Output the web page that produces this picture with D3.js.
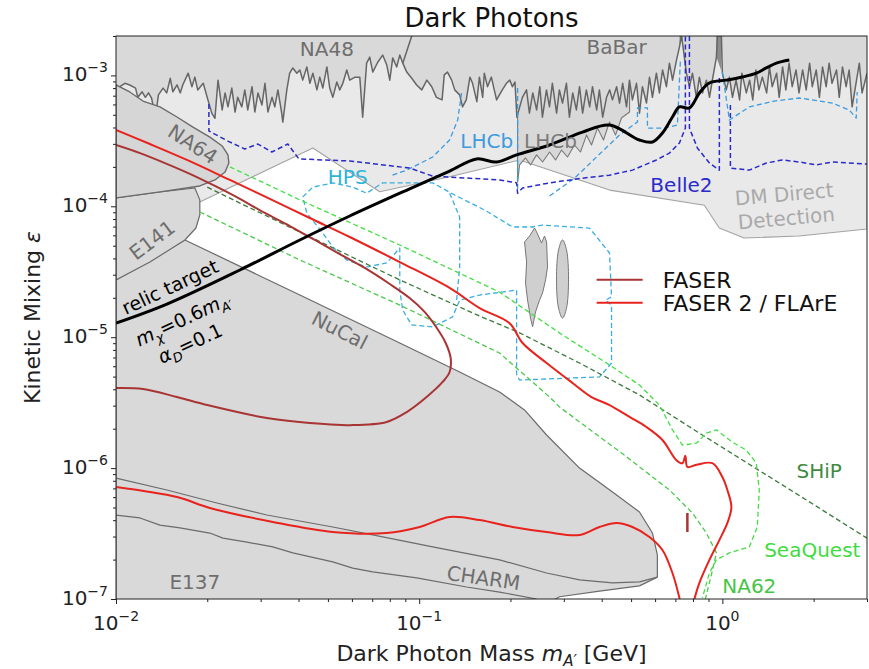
<!DOCTYPE html>
<html>
<head>
<meta charset="utf-8">
<script src="https://cdn.jsdelivr.net/npm/d3@7"></script>
<style>
  body { margin: 0; background: #fff; }
  text { font-family: "DejaVu Sans", sans-serif; }
</style>
</head>
<body>
<div id="chart"></div>
<script>
// axis ranges and tick labels (powers of ten)
const massRange = [0.01, 3];
const epsRange = [1e-7, 2e-3];
const xTickExp = [-2, -1, 0];
const yTickExp = [-7, -6, -5, -4, -3];

// [mass GeV, epsilon]
const na48 = [[0.0100,7.1e-4],[0.0103,8.2e-4],[0.0107,8.7e-4],[0.0111,8.45e-4],[0.0116,8.0e-4],[0.0118,6.8e-4],[0.0122,7.5e-4],[0.0125,6.8e-4],[0.0128,7.35e-4],[0.0131,6.7e-4],[0.0135,4.8e-4],[0.0138,7.1e-4],[0.0143,8.0e-4],[0.0147,7.35e-4],[0.0151,9.5e-4],[0.0154,7.5e-4],[0.0159,8.45e-4],[0.0163,7.35e-4],[0.0166,8.45e-4],[0.0173,1.04e-3],[0.0178,8.2e-4],[0.0182,9.7e-4],[0.0186,7.75e-4],[0.0194,8.7e-4],[0.0201,6.5e-4],[0.0207,5.15e-4],[0.0212,4.7e-4],[0.0217,9.2e-4],[0.0224,5.45e-4],[0.0229,7.35e-4],[0.0234,5.75e-4],[0.0241,8.0e-4],[0.0247,5.25e-4],[0.0252,6.8e-4],[0.026,5.75e-4],[0.0266,7.75e-4],[0.0272,5.45e-4],[0.0281,8.2e-4],[0.0287,5.25e-4],[0.0294,7.35e-4],[0.0303,5.95e-4],[0.031,8.7e-4],[0.0317,5.25e-4],[0.0327,6.8e-4],[0.0334,5.75e-4],[0.0342,7.75e-4],[0.0352,5.15e-4],[0.0355,4.4e-4],[0.0366,7.75e-4],[0.0374,1.04e-3],[0.0383,1.14e-3],[0.0395,1.04e-3],[0.0404,1.10e-3],[0.0413,9.2e-4],[0.0426,1.16e-3],[0.0436,8.7e-4],[0.0446,1.04e-3],[0.046,7.75e-4],[0.047,9.7e-4],[0.0481,8.0e-4],[0.0496,1.16e-3],[0.0507,8.0e-4],[0.0519,6.8e-4],[0.0535,8.9e-4],[0.0547,7.75e-4],[0.056,8.7e-4],[0.0577,1.10e-3],[0.059,9.2e-4],[0.0614,9.7e-4],[0.0637,9.7e-4],[0.0651,4.8e-4],[0.0671,1.24e-3],[0.0687,1.38e-3],[0.0703,1.06e-3],[0.073,1.26e-3],[0.0758,1.43e-3],[0.0782,1.2e-3],[0.080,9.2e-4],[0.0818,1.36e-3],[0.0843,1.16e-3],[0.0863,1.43e-3],[0.0883,1.24e-3],[0.091,1.06e-3],[0.0945,9.5e-4],[0.0981,8.45e-4],[0.102,7.75e-4],[0.106,9.2e-4],[0.110,8.2e-4],[0.114,6.8e-4],[0.119,6.5e-4],[0.121,1.01e-3],[0.124,1.06e-3],[0.128,9.2e-4],[0.131,7.75e-4],[0.136,7.1e-4],[0.139,5.75e-4],[0.143,6.5e-4],[0.147,9.7e-4],[0.150,8.7e-4],[0.155,6.3e-4],[0.158,9.7e-4],[0.162,6.8e-4],[0.164,1.04e-3],[0.168,8.2e-4],[0.173,9.7e-4],[0.180,6.5e-4],[0.188,7.75e-4],[0.194,8.7e-4],[0.199,9.2e-4],[0.203,8.2e-4],[0.207,8.9e-4],[0.210,4.8e-4]];
const na48Spike = [[0.0883,1.24e-3],[0.0945,2.0e-3]];
const babar = [[0.219,6.8e-4],[0.226,7.75e-4],[0.231,5.15e-4],[0.237,7.35e-4],[0.244,5.45e-4],[0.25,8.2e-4],[0.255,4.8e-4],[0.263,7.75e-4],[0.269,5.75e-4],[0.275,8.7e-4],[0.284,5.15e-4],[0.29,7.75e-4],[0.297,6.15e-4],[0.306,8.7e-4],[0.313,4.8e-4],[0.321,7.35e-4],[0.33,5.45e-4],[0.338,8.2e-4],[0.346,5.15e-4],[0.356,7.75e-4],[0.365,5.75e-4],[0.373,8.2e-4],[0.385,5.45e-4],[0.393,7.75e-4],[0.403,4.8e-4],[0.415,6.8e-4],[0.425,7.75e-4],[0.434,6.5e-4],[0.448,8.2e-4],[0.458,6.15e-4],[0.469,8.7e-4],[0.483,5.75e-4],[0.494,9.2e-4],[0.505,6.5e-4],[0.521,8.7e-4],[0.533,5.15e-4],[0.545,8.2e-4],[0.562,6.15e-4],[0.575,9.7e-4],[0.588,6.8e-4],[0.606,1.04e-3],[0.62,7.35e-4],[0.635,1.10e-3],[0.654,8.2e-4],[0.669,1.24e-3],[0.685,9.2e-4],[0.706,1.31e-3],[0.722,1.65e-3],[0.733,2.0e-3],[0.739,1.77e-3],[0.761,1.04e-3],[0.779,8.2e-4],[0.797,1.04e-3],[0.821,6.8e-4],[0.84,9.7e-4],[0.86,7.35e-4],[0.886,9.2e-4],[0.907,6.8e-4],[0.927,9.2e-4],[0.956,1.38e-3],[0.963,2.0e-3],[0.993,2.0e-3],[1.0,1.04e-3],[1.03,7.75e-4],[1.055,9.7e-4],[1.08,6.8e-4],[1.11,9.2e-4],[1.14,6.5e-4],[1.16,1.04e-3],[1.2,7.35e-4],[1.23,9.2e-4],[1.26,6.5e-4],[1.29,1.10e-3],[1.32,7.75e-4],[1.355,9.7e-4],[1.4,7.35e-4],[1.43,1.16e-3],[1.46,8.2e-4],[1.51,1.04e-3],[1.54,6.8e-4],[1.58,1.16e-3],[1.62,7.75e-4],[1.66,1.24e-3],[1.7,8.2e-4],[1.75,1.10e-3],[1.79,7.35e-4],[1.84,1.10e-3],[1.89,7.75e-4],[1.94,1.24e-3],[1.98,8.2e-4],[2.04,1.10e-3],[2.09,6.8e-4],[2.14,1.16e-3],[2.2,8.2e-4],[2.25,1.24e-3],[2.3,8.7e-4],[2.38,1.10e-3],[2.43,6.8e-4],[2.49,1.16e-3],[2.56,8.2e-4],[2.62,1.10e-3],[2.68,5.75e-4],[2.76,8.7e-4],[2.83,1.24e-3],[2.89,7.35e-4],[3.0,1.04e-3]];
const babarSpikeA = [[0.722,2e-3],[0.722,1.65e-3],[0.733,1.9e-3],[0.739,1.77e-3],[0.739,2e-3]];
const babarSpikeB = [[0.956,2e-3],[0.956,1.38e-3],[0.99,1.1e-3],[0.993,2e-3]];

const directDetection = [[0.01,2e-3],[0.01,1.12e-4],[0.0189,1.08e-4],[0.0446,2.79e-4],[0.0741,1.29e-4],[0.126,1.68e-4],[0.2144,2.26e-4],[0.4245,1.33e-4],[0.872,1.02e-4],[0.977,6.82e-5],[1.18,5.73e-5],[1.79,5.93e-5],[3.0,6.71e-5],[3.0,2e-3]];
const lhcbBound = [[0.2112,9.2e-4],[0.2112,1.53e-4],[0.2144,2.07e-4],[0.2243,2.34e-4],[0.233,2.07e-4],[0.2439,2.47e-4],[0.2553,2.18e-4],[0.2692,2.60e-4],[0.2818,2.26e-4],[0.2949,2.69e-4],[0.3085,2.38e-4],[0.3253,2.94e-4],[0.3404,2.60e-4],[0.3564,3.50e-4],[0.3702,2.94e-4],[0.3873,3.96e-4],[0.4055,3.21e-4],[0.4245,4.41e-4],[0.4443,3.50e-4],[0.4648,4.73e-4],[0.4942,5.25e-4],[0.4942,9.2e-4]];
const na64 = [[0.0100,8.45e-4],[0.0111,7.47e-4],[0.01227,6.37e-4],[0.01396,5.74e-4],[0.01589,4.81e-4],[0.01794,4.03e-4],[0.0204,3.38e-4],[0.0224,2.89e-4],[0.0234,2.47e-4],[0.02357,2.14e-4],[0.0229,1.83e-4],[0.0212,1.59e-4],[0.0189,1.43e-4],[0.01396,1.29e-4],[0.0100,1.16e-4]];
const e141 = [[0.0100,1.16e-4],[0.01396,1.29e-4],[0.0182,1.38e-4],[0.0189,1.12e-4],[0.0189,8.58e-5],[0.01835,6.83e-5],[0.01688,5.53e-5],[0.01294,3.75e-5],[0.0100,2.74e-5]];
const nucal = [[0.0100,2.74e-5],[0.01688,5.53e-5],[0.0404,2.10e-5],[0.0863,9.03e-6],[0.136,5.42e-6],[0.1842,3.81e-6],[0.2226,2.78e-6],[0.2632,1.79e-6],[0.338,1.00e-6],[0.4343,6.57e-7],[0.5329,4.62e-7],[0.5881,3.19e-7],[0.6105,2.17e-7],[0.6105,1.47e-7],[0.5329,1.26e-7],[0.3934,1.15e-7],[0.2904,1.04e-7],[0.26,9e-8],[0.01,9e-8]];
const charm = [[0.01,8.40e-7],[0.01472,6.80e-7],[0.02152,5.41e-7],[0.03145,4.38e-7],[0.05188,3.55e-7],[0.07581,2.98e-7],[0.1108,2.50e-7],[0.1842,1.99e-7],[0.2632,1.58e-7],[0.338,1.40e-7],[0.4343,1.33e-7],[0.5329,1.35e-7],[0.6105,1.47e-7]];
const e137 = [[0.01,4.38e-7],[0.0120,4.16e-7],[0.01396,3.67e-7],[0.01625,3.49e-7],[0.0204,3.19e-7],[0.02253,2.92e-7],[0.02702,2.72e-7],[0.0329,2.50e-7],[0.0383,2.25e-7],[0.05188,1.92e-7],[0.06038,1.72e-7],[0.07027,1.61e-7],[0.09813,1.45e-7],[0.1434,1.235e-7],[0.1842,1.13e-7],[0.2439,1e-7]];
const islandA = [[0.2226,5.34e-5],[0.2313,5.93e-5],[0.2402,6.83e-5],[0.2458,6.14e-5],[0.2533,5.24e-5],[0.2591,5.93e-5],[0.2632,5.34e-5],[0.2651,3.44e-5],[0.2612,2.74e-5],[0.2553,2.18e-5],[0.2495,1.92e-5],[0.2420,1.56e-5],[0.2366,1.20e-5],[0.2330,1.40e-5],[0.2278,1.92e-5],[0.2243,2.59e-5],[0.2261,3.75e-5]];
const islandB = [[0.2971,5.53e-5],[0.3062,4.64e-5],[0.3109,2.78e-5],[0.3062,1.67e-5],[0.2971,1.40e-5],[0.2882,1.67e-5],[0.2838,2.78e-5],[0.2882,4.64e-5]];

const hps = [[0.0413,1.18e-4],[0.04458,1.40e-4],[0.05188,1.51e-4],[0.06038,1.40e-4],[0.06714,1.26e-4],[0.07581,1.51e-4],[0.1108,1.51e-4],[0.1309,1.22e-4],[0.1644,9.37e-5],[0.2033,6.95e-5],[0.2366,6.95e-5],[0.2553,7.19e-5],[0.3647,6.82e-5],[0.4245,4.40e-5],[0.4310,2.03e-5],[0.4117,1.92e-5],[0.4310,1.76e-5],[0.4310,6.35e-6],[0.3934,4.97e-6],[0.2144,4.71e-6],[0.2096,5.14e-6],[0.2096,2.29e-5],[0.1583,2.10e-5],[0.136,1.92e-5],[0.1289,1.43e-5],[0.1108,1.20e-5],[0.09447,1.24e-5],[0.08826,1.61e-5],[0.0863,2.29e-5],[0.0863,4.80e-5],[0.07815,3.69e-5],[0.06714,3.44e-5],[0.05769,3.89e-5],[0.05188,4.89e-5],[0.04809,6.25e-5],[0.04259,8.89e-5],[0.0413,1.18e-4]];
const hpsInner = [[0.126,1.26e-4],[0.136,8.29e-5],[0.136,3.44e-5],[0.1329,1.92e-5]];
const lhcbA = [[0.138,7.34e-4],[0.134,4.56e-4],[0.126,3.21e-4],[0.1108,2.38e-4],[0.091,1.89e-4],[0.07995,1.70e-4]];
const lhcbB = [[0.2112,8.01e-4],[0.2112,1.33e-4]];
const lhcbC = [[0.2692,1.20e-4],[0.3253,1.64e-4],[0.3846,2.38e-4],[0.458,3.50e-4],[0.5248,4.41e-4],[0.5248,5.64e-4],[0.5661,5.64e-4],[0.5661,3.96e-4],[0.6442,3.96e-4],[0.7108,4.18e-4],[0.7272,1.31e-3]];
const lhcbD = [[1.0,1.06e-3],[1.055,4.56e-4],[1.227,5.75e-4],[1.484,6.37e-4],[1.794,6.72e-4],[2.304,6.15e-4],[2.622,5.44e-4],[2.764,4.73e-4],[2.785,7.47e-4]];
const belle2A = [[0.02025,6.05e-4],[0.02025,3.76e-4],[0.0234,3.15e-4],[0.0266,2.74e-4],[0.02938,2.99e-4],[0.03266,2.60e-4],[0.03688,2.99e-4],[0.0401,2.30e-4],[0.05902,2.22e-4],[0.093,1.96e-4],[0.1108,1.70e-4],[0.1842,1.59e-4],[0.2096,1.51e-4],[0.2112,1.26e-4],[0.2193,1.38e-4],[0.2692,1.51e-4],[0.3458,1.64e-4],[0.4245,1.73e-4],[0.5052,1.89e-4],[0.6062,2.26e-4],[0.669,2.55e-4],[0.7218,3.05e-4],[0.7552,3.96e-4],[0.7552,2e-3]];
const belle2B = [[0.7787,2e-3],[0.7787,3.96e-4],[0.8272,2.79e-4],[0.9065,2.14e-4],[0.9775,1.89e-4],[0.9775,9.55e-4]];
const belle2C = [[1.063,5.94e-4],[1.063,1.96e-4],[1.227,1.89e-4],[1.396,2.14e-4],[1.577,2.26e-4],[1.794,2.18e-4],[2.04,2.07e-4],[2.304,2.18e-4],[3.0,2.10e-4]];
const seaquest = [[0.02375,2.00e-4],[0.0404,1.12e-4],[0.0863,5.06e-5],[0.1842,2.21e-5],[0.2971,1.04e-5],[0.4149,6.35e-6],[0.5329,4.31e-6],[0.6202,3.03e-6],[0.6845,1.96e-6],[0.7385,1.50e-6],[0.8212,1.55e-6],[0.886,1.85e-6],[0.9557,1.96e-6],[1.079,1.58e-6],[1.2,1.37e-6],[1.294,1.09e-6],[1.324,6.80e-7],[1.304,3.55e-7],[1.227,2.50e-7],[1.055,2.25e-7],[0.9557,1.99e-7],[0.9065,1.58e-7],[0.8595,1.02e-7]];
const ship = [[0.02,1.40e-4],[0.0404,6.36e-5],[0.0863,2.74e-5],[0.1583,1.45e-5],[0.2144,1.08e-5],[0.338,6.35e-6],[0.5329,3.62e-6],[0.8401,1.85e-6],[1.541,7.69e-7],[3.0,2.92e-7]];
const na62 = [[0.0189,9.05e-5],[0.0404,3.89e-5],[0.0863,1.76e-5],[0.1842,7.57e-6],[0.2692,3.49e-6],[0.2904,2.93e-6],[0.483,1.22e-6],[0.669,6.80e-7],[0.7967,4.54e-7],[0.886,3.19e-7],[0.9557,2.25e-7],[0.9201,1.53e-7],[0.879,1e-7]];

const faser = [[0.01,2.94e-4],[0.012,2.55e-4],[0.0145,2.14e-4],[0.01753,1.77e-4],[0.0212,1.43e-4],[0.02562,1.14e-4],[0.03097,8.89e-5],[0.03744,7.07e-5],[0.04526,5.53e-5],[0.0547,4.32e-5],[0.06613,3.38e-5],[0.07995,2.55e-5],[0.093,1.99e-5],[0.1042,1.56e-5],[0.1142,1.18e-5],[0.1223,9.03e-6],[0.127,6.94e-6],[0.126,5.42e-6],[0.1195,4.55e-6],[0.1058,3.49e-6],[0.091,2.68e-6],[0.07815,2.25e-6],[0.06038,2.13e-6],[0.0404,2.25e-6],[0.03145,2.41e-6],[0.02,3.03e-6],[0.01589,3.49e-6],[0.01227,4.02e-6],[0.01,4.09e-6]];
const faserIsland = [[0.7667,4.54e-7],[0.7667,3.25e-7]];
const faser2 = [[0.01,3.83e-4],[0.01294,2.99e-4],[0.01714,2.26e-4],[0.02375,1.59e-4],[0.03217,1.14e-4],[0.04357,8.14e-5],[0.05902,5.83e-5],[0.0863,3.75e-5],[0.126,2.38e-5],[0.1583,1.67e-5],[0.1987,1.28e-5],[0.2193,9.03e-6],[0.2632,6.35e-6],[0.3205,4.47e-6],[0.3702,3.49e-6],[0.4245,3.03e-6],[0.4942,2.46e-6],[0.5618,2.06e-6],[0.6345,1.64e-6],[0.7055,1.15e-6],[0.7385,1.09e-6],[0.7552,1.24e-6],[0.7667,1.02e-6],[0.8212,1.06e-6],[0.9274,1.09e-6],[1.0,8.55e-7],[1.039,6.80e-7],[1.071,5.04e-7],[1.039,3.81e-7],[0.9775,2.82e-7],[0.9065,1.99e-7],[0.8401,1.33e-7],[0.8086,1e-7],[0.7906,7.96e-8],[0.7385,7.96e-8],[0.7218,1.02e-7],[0.6845,1.58e-7],[0.6345,2.37e-7],[0.5748,2.98e-7],[0.5052,3.55e-7],[0.4477,3.81e-7],[0.3934,3.55e-7],[0.338,3.08e-7],[0.2632,3.25e-7],[0.2033,3.55e-7],[0.1583,4.01e-7],[0.126,4.23e-7],[0.1004,3.55e-7],[0.07815,3.19e-7],[0.05188,3.25e-7],[0.0329,3.88e-7],[0.0204,4.96e-7],[0.01589,6.01e-7],[0.01,7.17e-7]];
const relic = [[0.01,1.28e-5],[0.01472,1.79e-5],[0.02562,3.26e-5],[0.0404,5.53e-5],[0.05902,8.43e-5],[0.093,1.36e-4],[0.126,1.86e-4],[0.1547,2.30e-4],[0.18,2.18e-4],[0.2096,2.47e-4],[0.2692,2.94e-4],[0.3458,3.69e-4],[0.4245,4.18e-4],[0.5329,3.21e-4],[0.5881,3.10e-4],[0.6345,3.63e-4],[0.6845,4.81e-4],[0.7218,5.74e-4],[0.7787,5.64e-4],[0.8401,7.34e-4],[0.9065,8.75e-4],[1.031,9.2e-4],[1.164,9.72e-4],[1.294,1.04e-3],[1.396,1.14e-3],[1.507,1.24e-3],[1.663,1.31e-3]];

// region labels: text, mass, epsilon, rotation
const regionLabels = [
  ["NA48", 0.0496, 1.59e-3, 0], ["BaBar", 0.448, 1.65e-3, 0], ["NA64", 0.01794, 2.99e-4, 33],
  ["E141", 0.01314, 5.53e-5, -37], ["NuCal", 0.0547, 1.135e-5, 27], ["HPS", 0.0581, 1.67e-4, 0],
  ["LHCb", 0.167, 3.15e-4, 0], ["LHCb ", 0.271, 3.15e-4, 0], ["Belle2", 0.733, 1.45e-4, 0],
  ["DM Direct", 1.60, 1.24e-4, -5], ["Detection", 1.625, 8.14e-5, -5], ["SHiP", 2.087, 9.5e-7, 0],
  ["SeaQuest", 1.98, 2.37e-7, 0], ["NA62", 1.227, 1.26e-7, 0], ["CHARM", 0.163, 1.45e-7, 8],
  ["E137", 0.0182, 1.35e-7, 0]
];
const labelColor = {
  "HPS": "#2db4da", "LHCb": "#3d9be0", "LHCb ": "#7a7a7a", "Belle2": "#2a2acc",
  "DM Direct": "#a9a9a9", "Detection": "#a9a9a9", "SHiP": "#3f8a3f", "SeaQuest": "#3fdc3f", "NA62": "#45c545"
};
const legendItems = ["FASER", "FASER 2 / FLArE"];

const W = 869, H = 669;
const margin = { top: 36, right: 2, bottom: 70, left: 116 };
const width = W - margin.left - margin.right;
const height = H - margin.top - margin.bottom;

const svg = d3.select("#chart").append("svg").attr("width", W).attr("height", H);
const g = svg.append("g").attr("transform", `translate(${margin.left},${margin.top})`);

const x = d3.scaleLog().domain(massRange).range([0, width]);
const y = d3.scaleLog().domain(epsRange).range([height, 0]);

g.append("clipPath").attr("id", "clip").append("rect").attr("width", width).attr("height", height);
const plot = g.append("g").attr("clip-path", "url(#clip)");

const line = d3.line().x(d => x(d[0])).y(d => y(d[1]));
const smooth = d3.line().x(d => x(d[0])).y(d => y(d[1])).curve(d3.curveCatmullRom.alpha(0.5));

function region(pts, fill, stroke, sw) {
  plot.append("path").attr("d", line(pts) + "Z").attr("fill", fill)
    .attr("stroke", stroke).attr("stroke-width", sw).attr("stroke-linejoin", "round");
}
function curve(pts, stroke, sw, dash, gen = line) {
  plot.append("path").attr("d", gen(pts)).attr("fill", "none").attr("stroke", stroke)
    .attr("stroke-width", sw).attr("stroke-dasharray", dash).attr("stroke-linejoin", "round");
}

// excluded regions
region(directDetection, "#e9e9e9", "#a3a3a3", 1.1);
region(lhcbBound, "#d8d8d8", "#7a7a7a", 1.1);
const topLine = na48.concat(babar);
region(topLine.concat([[3, 2e-3], [0.01, 2e-3]]), "#d9d9d9", "none", 0);
region(babarSpikeA, "#8c8c8c", "none", 0);
region(babarSpikeB, "#8c8c8c", "none", 0);
curve(topLine, "#666", 1.5, null);
curve(na48Spike, "#666", 1.5, null);
region(nucal, "#d9d9d9", "#6b6b6b", 1.2);
region(e141, "#d9d9d9", "#6b6b6b", 1.2);
region(na64, "#d6d6d6", "#6b6b6b", 1.4);
curve(charm, "#6b6b6b", 1.2, null);
curve(e137, "#6b6b6b", 1.2, null);
plot.append("path").attr("d", line(islandA) + "Z").attr("fill", "#cfcfcf").attr("stroke", "#777").attr("stroke-width", 1);
plot.append("path").attr("d", d3.line().x(d => x(d[0])).y(d => y(d[1])).curve(d3.curveCatmullRomClosed)(islandB))
  .attr("fill", "#cfcfcf").attr("stroke", "#777").attr("stroke-width", 1);

// future sensitivities
const dash = "5,3";
curve(hps, "#39aee0", 1.3, dash);
curve(hpsInner, "#39aee0", 1.3, dash);
[lhcbA, lhcbB, lhcbC, lhcbD].forEach(p => curve(p, "#3d9be0", 1.3, dash));
[belle2A, belle2B, belle2C].forEach(p => curve(p, "#2a2ac8", 1.5, dash));
curve(ship, "#3d7a3d", 1.3, dash);
curve(na62, "#4cc94c", 1.3, dash);
curve(seaquest, "#45de45", 1.3, dash);

// FASER reach
curve(faser2, "#e8221c", 2, null, smooth);
curve(faser, "#a83434", 2, null, smooth);
curve(faserIsland, "#a83434", 2.5, null);
curve(relic, "#000", 3, null, smooth);

// labels
regionLabels.forEach(([t, m, e, r]) => {
  plot.append("text")
    .attr("transform", `translate(${x(m)},${y(e)}) rotate(${r})`)
    .attr("text-anchor", "middle").attr("dy", "0.36em")
    .attr("font-size", 20).attr("fill", labelColor[t] || "#6e6e6e")
    .text(t.trim());
});

// relic target annotation: parts are [text, italic, dy, small]
function relicText(m, e, parts) {
  const t = plot.append("text")
    .attr("transform", `translate(${x(m)},${y(e)}) rotate(-25)`)
    .attr("text-anchor", "middle").attr("dy", "0.36em").attr("font-size", 19).attr("fill", "#000");
  parts.forEach(([s, italic, dy, small]) => {
    t.append("tspan").text(s)
      .attr("font-style", italic ? "italic" : null)
      .attr("font-size", small ? 13 : null)
      .attr("dy", dy || null);
  });
}
relicText(0.01506, 2.42e-5, [["relic target"]]);
relicText(0.01663, 1.38e-5, [["m", 1], ["χ", 1, 5, 1], ["=0.6", 0, -5], ["m", 1], ["A′", 1, 5, 1]]);
relicText(0.01753, 9.0e-6, [["α", 1], ["D", 1, 5, 1], ["=0.1", 0, -5]]);

// legend
const legend = g.append("g").attr("transform", `translate(${width * 0.64},${height * 0.433})`);
legendItems.forEach((name, i) => {
  const row = legend.append("g").attr("transform", `translate(0,${i * 23})`);
  row.append("line").attr("x1", 0).attr("x2", 46).attr("stroke", i ? "#e8221c" : "#a83434").attr("stroke-width", 2);
  row.append("text").attr("x", 66).attr("dy", "0.36em").attr("font-size", 22).attr("fill", "#111").text(name);
});

// axes
const isMajor = v => Math.abs(Math.log10(v) - Math.round(Math.log10(v))) < 1e-6;
const xMinor = x.ticks().filter(v => !isMajor(v));
const yMinor = y.ticks().filter(v => !isMajor(v));
const xMajor = xTickExp.map(e => Math.pow(10, e));
const yMajor = yTickExp.map(e => Math.pow(10, e));

const axisStyle = a => { a.select(".domain").remove(); a.selectAll("line").attr("stroke", "#222"); };
g.append("g").attr("transform", `translate(0,${height})`)
  .call(d3.axisBottom(x).tickValues(xMinor).tickSize(3).tickFormat("")).call(axisStyle);
g.append("g").attr("transform", `translate(0,${height})`)
  .call(d3.axisBottom(x).tickValues(xMajor).tickSize(5).tickFormat("")).call(axisStyle);
g.append("g").call(d3.axisLeft(y).tickValues(yMinor).tickSize(3).tickFormat("")).call(axisStyle);
g.append("g").call(d3.axisLeft(y).tickValues(yMajor).tickSize(5).tickFormat("")).call(axisStyle);

function powLabel(sel, e) {
  sel.append("tspan").text("10");
  sel.append("tspan").text(e < 0 ? "\u2212" + (-e) : String(e)).attr("font-size", 14).attr("dy", -9);
}
xTickExp.forEach(e => {
  g.append("text").attr("x", x(Math.pow(10, e))).attr("y", height + 31)
    .attr("text-anchor", "middle").attr("font-size", 20).attr("fill", "#222")
    .call(s => powLabel(s, e));
});
yTickExp.forEach(e => {
  g.append("text").attr("x", -8).attr("y", y(Math.pow(10, e)) + 6)
    .attr("text-anchor", "end").attr("font-size", 20).attr("fill", "#222")
    .call(s => powLabel(s, e));
});

g.append("rect").attr("width", width).attr("height", height)
  .attr("fill", "none").attr("stroke", "#222").attr("stroke-width", 1);

// titles
svg.append("text").attr("x", margin.left + width / 2).attr("y", 27)
  .attr("text-anchor", "middle").attr("font-size", 26).attr("fill", "#111").text("Dark Photons");

const xl = svg.append("text").attr("x", margin.left + width / 2).attr("y", 661)
  .attr("text-anchor", "middle").attr("font-size", 22).attr("fill", "#222");
xl.append("tspan").text("Dark Photon Mass ");
xl.append("tspan").text("m").attr("font-style", "italic");
xl.append("tspan").text("A′").attr("font-style", "italic").attr("font-size", 15).attr("dy", 5);
xl.append("tspan").text(" [GeV]").attr("dy", -5);

const yl = svg.append("text").attr("transform", `translate(40,${margin.top + height / 2}) rotate(-90)`)
  .attr("text-anchor", "middle").attr("font-size", 22).attr("fill", "#222");
yl.append("tspan").text("Kinetic Mixing ");
yl.append("tspan").text("ε").attr("font-style", "italic");
</script>
</body>
</html>
